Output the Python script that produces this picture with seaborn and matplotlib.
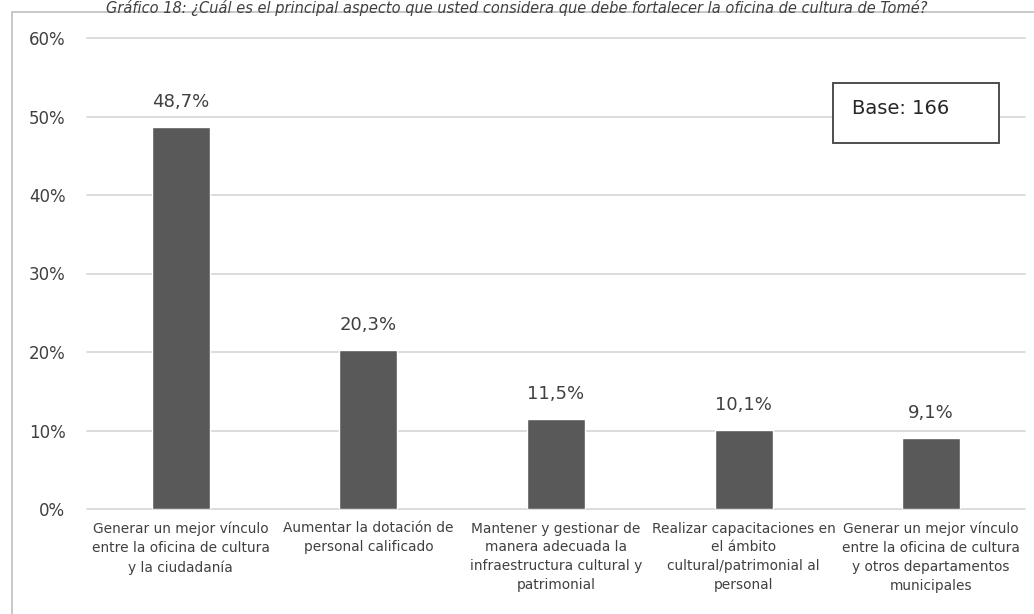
import matplotlib
matplotlib.use("Agg")
import matplotlib.pyplot as plt
import seaborn as sns
import pandas as pd
from matplotlib.patches import Rectangle
from matplotlib.ticker import FuncFormatter

categories = [
    "Generar un mejor vínculo\nentre la oficina de cultura\ny la ciudadanía",
    "Aumentar la dotación de\npersonal calificado",
    "Mantener y gestionar de\nmanera adecuada la\ninfraestructura cultural y\npatrimonial",
    "Realizar capacitaciones en\nel ámbito\ncultural/patrimonial al\npersonal",
    "Generar un mejor vínculo\nentre la oficina de cultura\ny otros departamentos\nmunicipales",
]
values = [48.7, 20.3, 11.5, 10.1, 9.1]
value_labels = ["48,7%", "20,3%", "11,5%", "10,1%", "9,1%"]
yticks = [0, 10, 20, 30, 40, 50, 60]
title = "Gráfico 18: ¿Cuál es el principal aspecto que usted considera que debe fortalecer la oficina de cultura de Tomé?"
base_text = "Base: 166"

df = pd.DataFrame({"cat": categories, "val": values})

sns.set_theme(style="white")
plt.rcParams["font.family"] = ["DejaVu Sans"]

W, H = 1034, 614
fig = plt.figure(figsize=(W / 100, H / 100), dpi=100)
ax = fig.add_axes([87 / W, 1 - 509 / H, (1025 - 87) / W, (509 - 38) / H])

sns.barplot(data=df, x="cat", y="val", color="#595959", width=0.31,
            saturation=1, ax=ax, zorder=3)

ax.set_ylim(0, 60)
ax.set_xlim(-0.5, len(categories) - 0.5)
ax.set_yticks(yticks)
ax.yaxis.set_major_formatter(FuncFormatter(lambda v, p: f"{int(v)}%"))
ax.grid(axis="y", color="#d9d9d9", linewidth=1.3, zorder=0)
for gl in ax.get_ygridlines():
    gl.set_clip_on(False)
ax.grid(axis="x", visible=False)
for s in ax.spines.values():
    s.set_visible(False)
ax.tick_params(axis="y", length=0, pad=15.5, labelsize=12, labelcolor="#404040")
ax.tick_params(axis="x", length=0, pad=9, labelsize=9.9, labelcolor="#404040")
for lbl in ax.get_xticklabels():
    lbl.set_linespacing(1.45)
    lbl.set_verticalalignment("top")
ax.set_xlabel("")
ax.set_ylabel("")

for i, (v, t) in enumerate(zip(values, value_labels)):
    ax.annotate(t, (i, v), xytext=(0, 11), textcoords="offset points",
                ha="center", va="bottom", fontsize=13, color="#404040")

# Base box
bx0, by0 = 833 / W, 1 - 143 / H
fig.patches.append(Rectangle((bx0, by0), (999 - 833) / W, 60 / H,
                             transform=fig.transFigure, fill=True,
                             facecolor="white", edgecolor="#404040",
                             linewidth=1.3, zorder=5))
fig.text(852 / W, 1 - 108 / H, base_text, fontsize=14, color="#262626",
         ha="left", va="center", zorder=6)

# outer frame
fig.patches.append(Rectangle((12 / W, -0.05), 1.1, 1 - 12 / H + 0.05,
                             transform=fig.transFigure, fill=False,
                             edgecolor="#bfbfbf", linewidth=1.2, zorder=0))

fig.text(0.5, 1 - 8 / H, title, fontsize=10.5, style="italic",
         color="#404040", ha="center", va="center")

fig.savefig("out.png", dpi=100, facecolor="white")
